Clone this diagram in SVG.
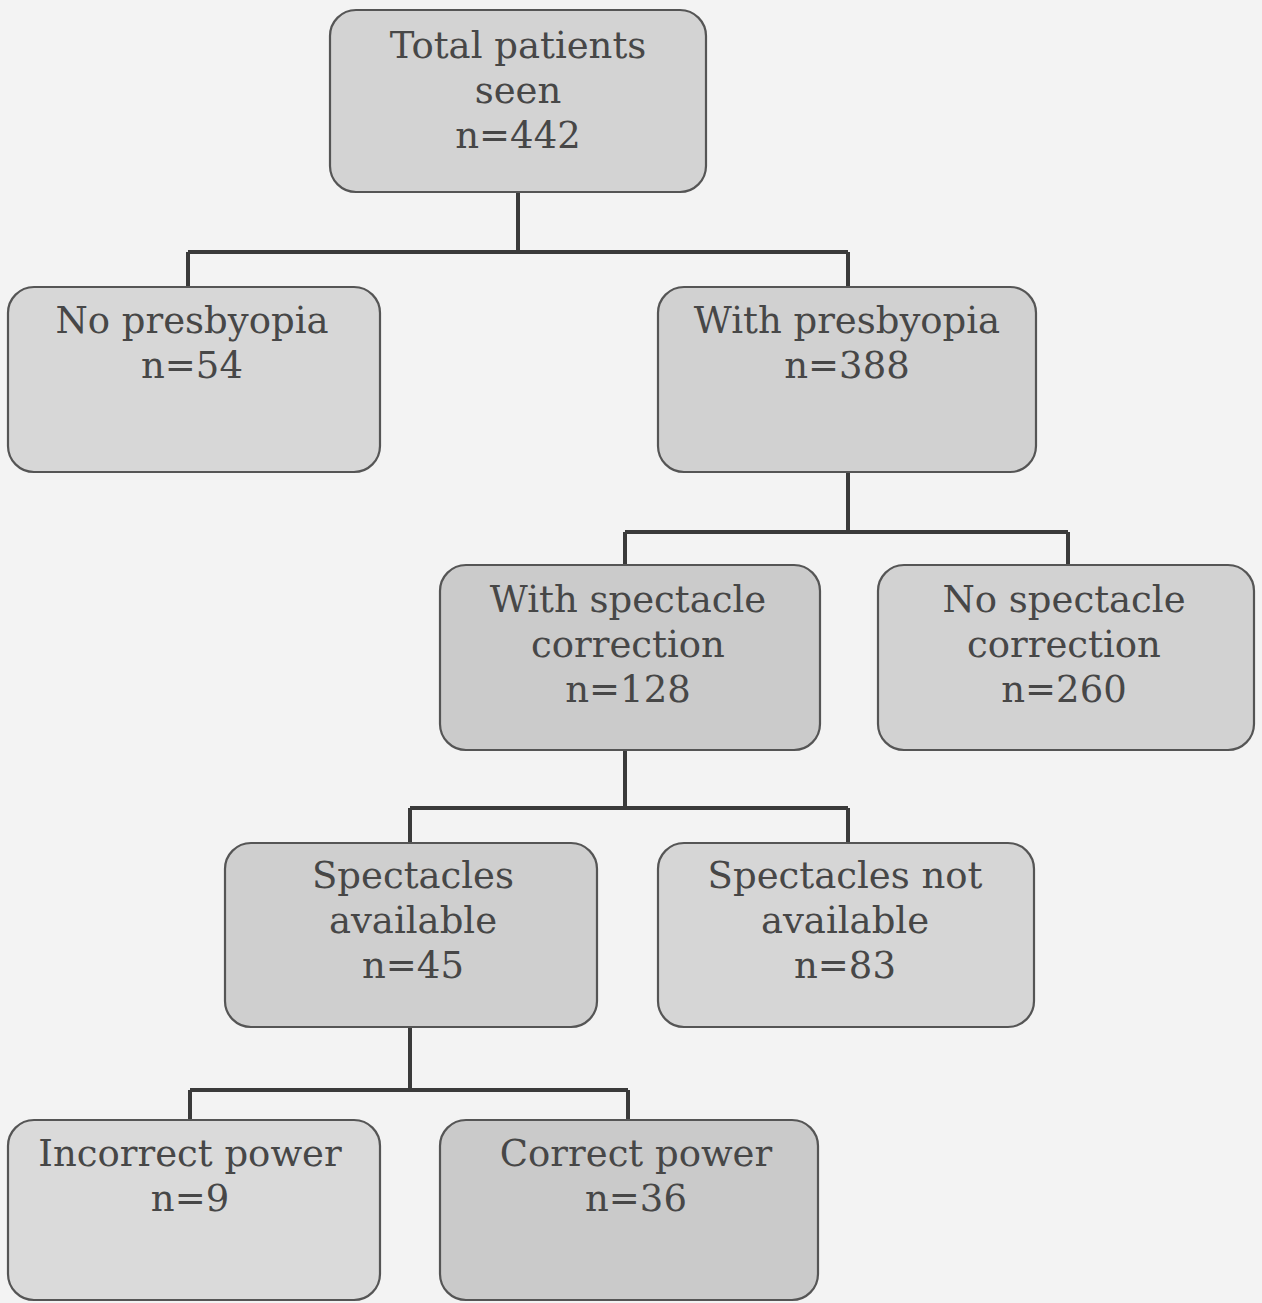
<svg xmlns="http://www.w3.org/2000/svg" width="1262" height="1303" viewBox="0 0 1262 1303">
<style>
.box{stroke:#555;stroke-width:2.2;}
.t{font-family:"DejaVu Serif","Liberation Serif",serif;font-size:37px;fill:#474747;text-anchor:middle;}
.c{fill:none;stroke:#3a3a3a;stroke-width:4;}
</style>
<rect x="0" y="0" width="1262" height="1303" fill="#f3f3f3"/>
<g id="connectors">
<path class="c" d="M518,192 V252 M188,252 H848 M188,252 V288 M848,252 V288"/>
<path class="c" d="M848,472 V532 M625,532 H1068 M625,532 V566 M1068,532 V566"/>
<path class="c" d="M625,750 V808 M410,808 H848 M410,808 V844 M848,808 V844"/>
<path class="c" d="M410,1027 V1090 M190,1090 H628 M190,1090 V1121 M628,1090 V1121"/>
</g>
<g id="n1"><rect class="box" x="330" y="10" width="376" height="182" rx="26" fill="#d3d3d3"/>
<text class="t" x="518" y="58">Total patients</text><text class="t" x="518" y="103">seen</text><text class="t" x="518" y="148">n=442</text></g>
<g id="n2"><rect class="box" x="8" y="287" width="372" height="185" rx="26" fill="#d7d7d7"/>
<text class="t" x="192" y="333">No presbyopia</text><text class="t" x="192" y="378">n=54</text></g>
<g id="n3"><rect class="box" x="658" y="287" width="378" height="185" rx="26" fill="#d1d1d1"/>
<text class="t" x="847" y="333">With presbyopia</text><text class="t" x="847" y="378">n=388</text></g>
<g id="n4"><rect class="box" x="440" y="565" width="380" height="185" rx="26" fill="#cbcbcb"/>
<text class="t" x="628" y="612">With spectacle</text><text class="t" x="628" y="657">correction</text><text class="t" x="628" y="702">n=128</text></g>
<g id="n5"><rect class="box" x="878" y="565" width="376" height="185" rx="26" fill="#d2d2d2"/>
<text class="t" x="1064" y="612">No spectacle</text><text class="t" x="1064" y="657">correction</text><text class="t" x="1064" y="702">n=260</text></g>
<g id="n6"><rect class="box" x="225" y="843" width="372" height="184" rx="26" fill="#cfcfcf"/>
<text class="t" x="413" y="888">Spectacles</text><text class="t" x="413" y="933">available</text><text class="t" x="413" y="978">n=45</text></g>
<g id="n7"><rect class="box" x="658" y="843" width="376" height="184" rx="26" fill="#d6d6d6"/>
<text class="t" x="845" y="888">Spectacles not</text><text class="t" x="845" y="933">available</text><text class="t" x="845" y="978">n=83</text></g>
<g id="n8"><rect class="box" x="8" y="1120" width="372" height="180" rx="26" fill="#dadada"/>
<text class="t" x="190" y="1166">Incorrect power</text><text class="t" x="190" y="1211">n=9</text></g>
<g id="n9"><rect class="box" x="440" y="1120" width="378" height="180" rx="26" fill="#cacaca"/>
<text class="t" x="636" y="1166">Correct power</text><text class="t" x="636" y="1211">n=36</text></g>
</svg>
